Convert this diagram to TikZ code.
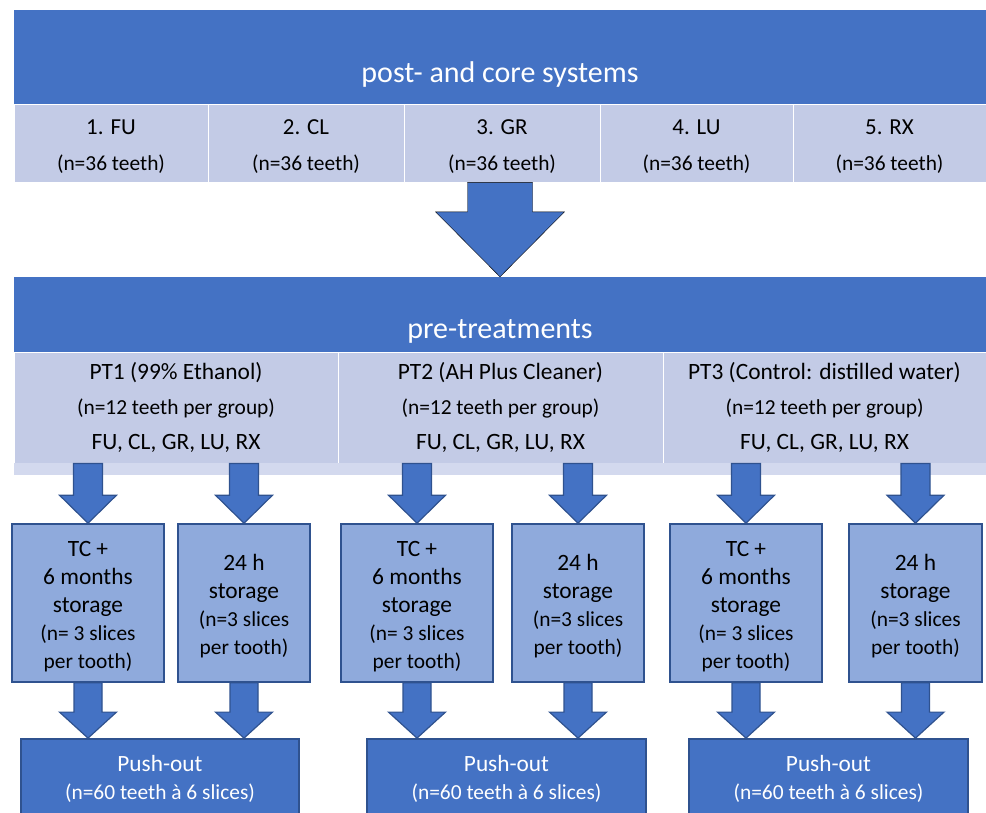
\documentclass[tikz,border=0pt]{standalone}
\usepackage{fontspec}
\setmainfont{Carlito}
\usetikzlibrary{calc}
\definecolor{mainblue}{HTML}{4472C4}
\definecolor{edgeblue}{HTML}{2F528F}
\definecolor{celllight}{HTML}{C3CBE6}
\definecolor{cellstrip}{HTML}{D3D9EE}
\definecolor{boxblue}{HTML}{8FAADC}
\newcommand{\notesize}{\fontsize{21.4}{\baselineskip}\selectfont}
\newcommand{\firstline}{\rule{0pt}{23pt}}
% block arrow: style, from, to, half shaft, half head, head length
\newcommand{\blockarrow}[6]{\draw[#1] let \p1=(#2), \p2=(#3) in (\x1-#4,\y1) -- (\x1+#4,\y1) -- (\x1+#4,\y2-#6) -- (\x1+#5,\y2-#6) -- (\x1,\y2) -- (\x1-#5,\y2-#6) -- (\x1-#4,\y2-#6) -- cycle;}
\tikzset{
  banner/.style={rectangle, fill=mainblue, inner sep=0pt, minimum width=972pt},
  bannertext/.style={text=white, inner sep=0pt, font=\fontsize{30}{36}\selectfont},
  topcell/.style={rectangle, fill=celllight, draw=white, line width=0.8pt, inner sep=0pt, align=center, minimum height=78pt, font=\fontsize{22.9}{34}\selectfont},
  ptcell/.style={rectangle, fill=celllight, draw=white, line width=0.8pt, inner sep=0pt, align=center, minimum height=111pt, font=\fontsize{23.4}{35}\selectfont},
  storebox/.style={rectangle, fill=boxblue, draw=edgeblue, line width=1.6pt, inner sep=0pt, align=center, minimum height=158pt, font=\fontsize{23.4}{28}\selectfont},
  pushbox/.style={rectangle, fill=mainblue, draw=edgeblue, line width=1.8pt, inner sep=0pt, align=center, text=white, minimum height=80pt, minimum width=279pt, font=\fontsize{23.3}{28}\selectfont},
  bigarr/.style={fill=mainblue},
  blockarr/.style={fill=mainblue, draw=edgeblue, line width=1.2pt, line join=miter}
}
\begin{document}
\begin{tikzpicture}[x=1pt,y=1pt,yscale=-1]
\useasboundingbox (0,0) rectangle (986,812);
\clip (0,0) rectangle (986,812);

% post- and core systems
\node[banner, minimum height=94pt] (bannerA) at (500,57) {};
\node[bannertext] (titleA) at (500,74) {post- and core systems};
\node[topcell, minimum width=194pt] (c1) at (111,143) {\rule{0pt}{21pt}1. FU\\[2pt]\notesize (n=36 teeth)};
\node[topcell, minimum width=196pt] (c2) at (306,143) {\rule{0pt}{21pt}2. CL\\[2pt]\notesize (n=36 teeth)};
\node[topcell, minimum width=196pt] (c3) at (502,143) {\rule{0pt}{21pt}3. GR\\[2pt]\notesize (n=36 teeth)};
\node[topcell, minimum width=193pt] (c4) at (696.5,143) {\rule{0pt}{21pt}4. LU\\[2pt]\notesize (n=36 teeth)};
\node[topcell, minimum width=193pt] (c5) at (889.5,143) {\rule{0pt}{21pt}5. RX\\[2pt]\notesize (n=36 teeth)};

% pre-treatments
\node[banner, minimum height=75pt] (bannerB) at (500,314.5) {};
\node[bannertext] (titleB) at (500,331) {pre-treatments};
\blockarrow{bigarr}{c3.south -| bannerB.north}{bannerB.north}{32.5pt}{64.5pt}{65pt}
\node[ptcell, minimum width=324pt] (pt1) at (176,407.5) {PT1 (99\% Ethanol)\\\notesize (n=12 teeth per group)\\FU, CL, GR, LU, RX};
\node[ptcell, minimum width=325pt] (pt2) at (500.5,407.5) {PT2 (AH Plus Cleaner)\\\notesize (n=12 teeth per group)\\FU, CL, GR, LU, RX};
\node[ptcell, minimum width=323pt] (pt3) at (824.5,407.5) {PT3 (Control: distilled water)\\\notesize (n=12 teeth per group)\\FU, CL, GR, LU, RX};
\foreach \cel in {pt1,pt2,pt3}
  \fill[cellstrip] ([xshift=0.6pt,yshift=12pt]\cel.south west) rectangle ([xshift=-0.6pt]\cel.south east);

% storage groups
\node[storebox, minimum width=152pt] (tc1) at (88,603) {\firstline TC +\\6 months\\storage\\\notesize (n= 3 slices\\\notesize per tooth)};
\node[storebox, minimum width=132pt] (st1) at (244,603) {\firstline 24 h\\storage\\\notesize (n=3 slices\\\notesize per tooth)};
\node[storebox, minimum width=152pt] (tc2) at (417,603) {\firstline TC +\\6 months\\storage\\\notesize (n= 3 slices\\\notesize per tooth)};
\node[storebox, minimum width=132pt] (st2) at (578,603) {\firstline 24 h\\storage\\\notesize (n=3 slices\\\notesize per tooth)};
\node[storebox, minimum width=152pt] (tc3) at (746,603) {\firstline TC +\\6 months\\storage\\\notesize (n= 3 slices\\\notesize per tooth)};
\node[storebox, minimum width=133pt] (st3) at (915.5,603) {\firstline 24 h\\storage\\\notesize (n=3 slices\\\notesize per tooth)};
\foreach \src/\dst in {pt1/tc1, pt1/st1, pt2/tc2, pt2/st2, pt3/tc3, pt3/st3}{
  \blockarrow{blockarr}{\src.south -| \dst.north}{\dst.north}{14.5pt}{28.5pt}{28pt}
}

% push-out
\node[pushbox, minimum width=278pt] (pA) at (160,779) {Push-out\\\notesize (n=60 teeth à 6 slices)};
\node[pushbox] (pB) at (506.5,779) {Push-out\\\notesize (n=60 teeth à 6 slices)};
\node[pushbox] (pC) at (828.5,779) {Push-out\\\notesize (n=60 teeth à 6 slices)};
\foreach \src/\dst in {tc1/pA, st1/pA, tc2/pB, st2/pB, tc3/pC, st3/pC}{
  \blockarrow{blockarr}{\src.south}{\dst.north -| \src.south}{14pt}{28.5pt}{26pt}
}

\end{tikzpicture}
\end{document}
